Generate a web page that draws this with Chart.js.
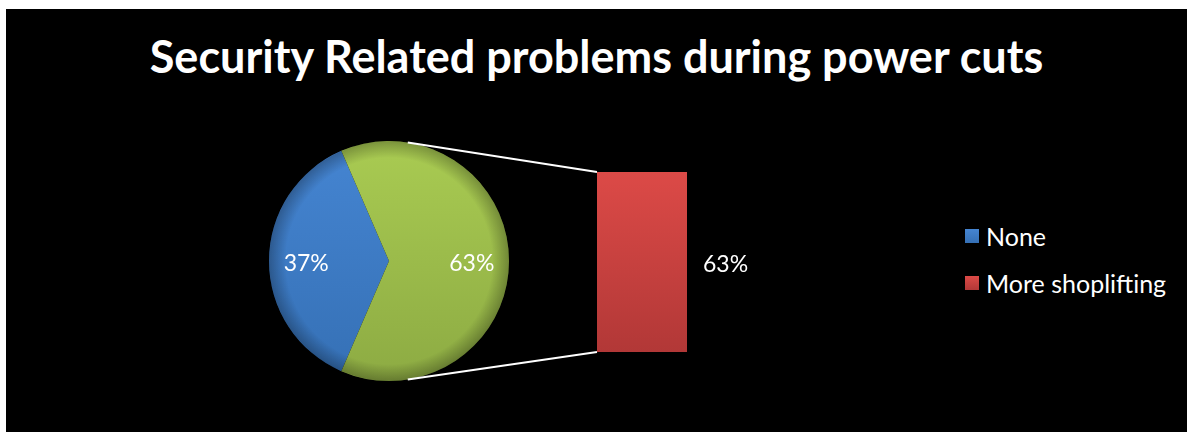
<!DOCTYPE html>
<html>
<head>
<meta charset="utf-8">
<script src="https://cdn.jsdelivr.net/npm/chart.js@4.4.0/dist/chart.umd.min.js"></script>
<style>
body { margin: 0; background: #fff; width: 1189px; height: 432px; overflow: hidden; font-family: Lato, sans-serif; }
#frame { position: absolute; left: 6px; top: 9px; width: 1181px; height: 423px; background: #000; }
#title { position: absolute; left: 0; top: 19px; width: 1181px; text-align: center; color: #fff; font: bold 45px Lato, sans-serif; line-height: 56px; }
#pieBox { position: absolute; left: 263px; top: 132px; width: 240px; height: 240px; }
#barBox { position: absolute; left: 395px; top: 122px; width: 365px; height: 260px; }
#legend { position: absolute; left: 959px; top: 203px; color: #fff; font: 25px Lato, sans-serif; }
.item { display: flex; align-items: center; height: 47px; }
.box { width: 14px; height: 14px; margin-right: 7px; }
</style>
</head>
<body>
<div id="frame">
  <div id="title">Security Related problems during power cuts</div>
  <div id="pieBox"><canvas id="pieChart"></canvas></div>
  <div id="barBox"><canvas id="barChart"></canvas></div>
  <div id="legend"></div>
</div>
<script>
// data
const pieLabels = ['None', 'Other'];
const pieValues = [37, 63];
const barLabels = ['More shoplifting'];
const barValues = [63];

const total = pieValues.reduce((a, b) => a + b, 0);

// colours (top / bottom of the gradient)
const blueTop = '#4585d2', blueBottom = '#3570b5';
const greenTop = '#a9cb52', greenBottom = '#8dab43';
const redTop = '#dc4a47', redBottom = '#b23837';

function vGrad(chart, top, bottom) {
    const area = chart.chartArea;
    if (!area) return top;
    const g = chart.ctx.createLinearGradient(0, area.top, 0, area.bottom);
    g.addColorStop(0, top);
    g.addColorStop(1, bottom);
    return g;
}

// percent labels inside the pie + soft bevel at the rim
const pieLabelPlugin = {
    id: 'pieLabels',
    afterDatasetsDraw(chart) {
        const ctx = chart.ctx;
        const arcs = chart.getDatasetMeta(0).data;
        const a0 = arcs[0];
        const rim = ctx.createRadialGradient(a0.x, a0.y, a0.outerRadius * 0.86, a0.x, a0.y, a0.outerRadius);
        rim.addColorStop(0, 'rgba(0,0,0,0)');
        rim.addColorStop(1, 'rgba(0,0,0,0.28)');
        ctx.save();
        ctx.beginPath();
        ctx.arc(a0.x, a0.y, a0.outerRadius, 0, Math.PI * 2);
        ctx.fillStyle = rim;
        ctx.fill();
        ctx.font = '23px Lato, sans-serif';
        ctx.fillStyle = '#fff';
        ctx.textAlign = 'center';
        ctx.textBaseline = 'middle';
        arcs.forEach((arc, i) => {
            const mid = (arc.startAngle + arc.endAngle) / 2;
            const r = arc.outerRadius * 0.69;
            const pct = Math.round(pieValues[i] / total * 100) + '%';
            ctx.fillText(pct, arc.x + Math.cos(mid) * r, arc.y + Math.sin(mid) * r + 3);
        });
        ctx.restore();
    }
};

const pieChart = new Chart(document.getElementById('pieChart'), {
    type: 'pie',
    data: {
        labels: pieLabels,
        datasets: [{
            data: pieValues,
            backgroundColor: c => c.dataIndex === 0 ? vGrad(c.chart, blueTop, blueBottom) : vGrad(c.chart, greenTop, greenBottom),
            borderWidth: 0
        }]
    },
    options: {
        responsive: true,
        maintainAspectRatio: false,
        animation: false,
        rotation: 270 - 180 * pieValues[0] / total,
        layout: { padding: 0 },
        plugins: { legend: { display: false }, tooltip: { enabled: false }, title: { display: false } }
    },
    plugins: [pieLabelPlugin]
});

// connector lines from the pie to the bar + label next to the bar
const barExtrasPlugin = {
    id: 'barExtras',
    afterDraw(chart) {
        const ctx = chart.ctx;
        const bar = chart.getDatasetMeta(0).data[0];
        const arc = pieChart.getDatasetMeta(0).data[1];
        const pr = pieChart.canvas.getBoundingClientRect();
        const br = chart.canvas.getBoundingClientRect();
        const cx = arc.x + pr.left - br.left;
        const cy = arc.y + pr.top - br.top;
        const ang = 81 * Math.PI / 180;
        const left = bar.x - bar.width / 2;
        ctx.save();
        ctx.strokeStyle = '#fff';
        ctx.lineWidth = 2;
        ctx.beginPath();
        ctx.moveTo(cx + Math.cos(ang) * arc.outerRadius, cy - Math.sin(ang) * arc.outerRadius);
        ctx.lineTo(left, bar.y);
        ctx.moveTo(cx + Math.cos(ang) * arc.outerRadius, cy + Math.sin(ang) * arc.outerRadius);
        ctx.lineTo(left, bar.base);
        ctx.stroke();
        ctx.font = '23px Lato, sans-serif';
        ctx.fillStyle = '#fff';
        ctx.textAlign = 'left';
        ctx.textBaseline = 'middle';
        const pct = Math.round(barValues[0] / total * 100) + '%';
        ctx.fillText(pct, bar.x + bar.width / 2 + 16, (bar.y + bar.base) / 2 + 3);
        ctx.restore();
    }
};

new Chart(document.getElementById('barChart'), {
    type: 'bar',
    data: {
        labels: barLabels,
        datasets: [{
            data: barValues,
            backgroundColor: c => vGrad(c.chart, redTop, redBottom),
            borderWidth: 0,
            barPercentage: 1,
            categoryPercentage: 1
        }]
    },
    options: {
        responsive: true,
        maintainAspectRatio: false,
        animation: false,
        layout: { padding: { left: 196, right: 79, top: 41, bottom: 39 } },
        scales: {
            x: { display: false },
            y: { display: false, min: 0, max: barValues[0] }
        },
        plugins: { legend: { display: false }, tooltip: { enabled: false } }
    },
    plugins: [barExtrasPlugin]
});

// legend
const legendItems = [
    { label: pieLabels[0], top: blueTop, bottom: blueBottom },
    { label: barLabels[0], top: redTop, bottom: redBottom }
];
const legendEl = document.getElementById('legend');
legendItems.forEach(it => {
    const row = document.createElement('div');
    row.className = 'item';
    row.innerHTML = '<span class="box" style="background:linear-gradient(' + it.top + ',' + it.bottom + ')"></span><span>' + it.label + '</span>';
    legendEl.appendChild(row);
});
</script>
</body>
</html>
